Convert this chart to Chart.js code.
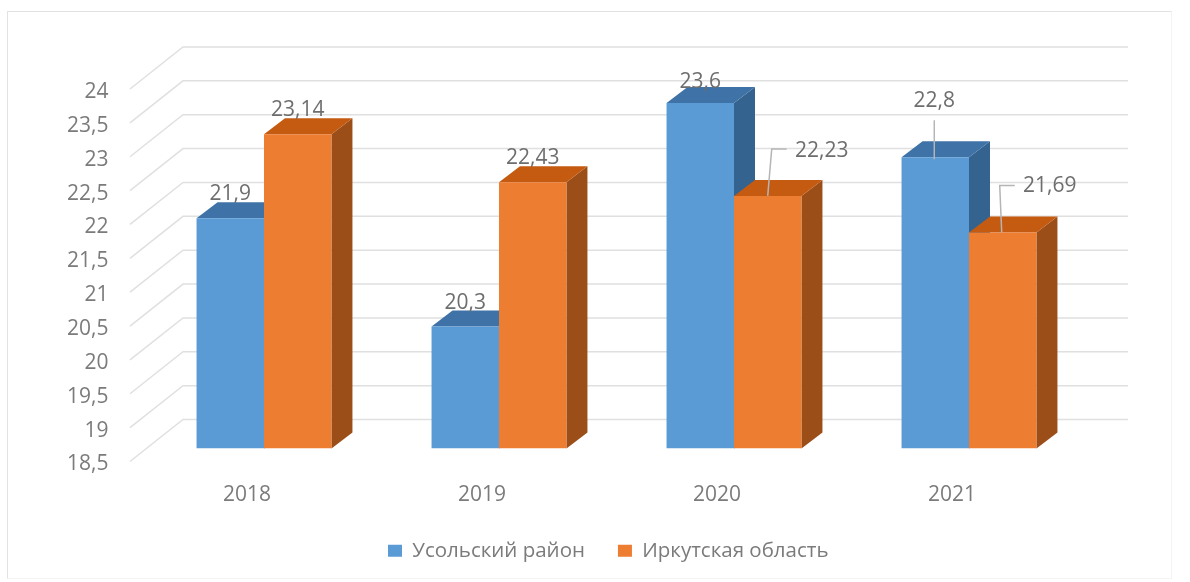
<!DOCTYPE html>
<html>
<head>
<meta charset="utf-8">
<title>Chart</title>
<script src="https://cdn.jsdelivr.net/npm/chart.js@4"></script>
<style>
  html, body { margin: 0; padding: 0; background: #fff; overflow: hidden; }
  #wrap { position: relative; width: 1190px; height: 582px; }
  #frame { position: absolute; left: 7px; top: 11px; width: 1163px; height: 566px; border: 1px solid #e2e2e2; border-right-color: #f4f4f4; border-bottom-color: #f4f4f4; }
  #chart { position: absolute; left: 0; top: 0; filter: blur(0.4px); }
</style>
</head>
<body>
<div id="wrap">
  <div id="frame"></div>
  <canvas id="chart" width="1190" height="582"></canvas>
</div>
<script>
const years = ['2018', '2019', '2020', '2021'];
const usolye = [21.9, 20.3, 23.6, 22.8];
const irkutsk = [23.14, 22.43, 22.23, 21.69];
const seriesNames = ['Усольский район', 'Иркутская область'];

const textColor = '#7b7b7b';
const gridColor = '#e0e0e0';
const fontName = '"Open Sans", sans-serif';

// faces of the bars
const depthX = 21;
const depthY = 16;
const barColors = [
  { front: '#5b9bd5', top: '#3f72a6', side: '#35638f' },
  { front: '#ed7d31', top: '#c55a11', side: '#9c4e18' }
];

// gridline offsets relative to the bar plane
const wall = { frontX: -16.5, frontY: 13, backX: 36.5, backY: -29, right: 41.5 };

// label position relative to bar top, and leader line if the label was moved
const labelPlace = [
  [{ dx: 0, dy: -24 }, { dx: 0, dy: -24 }, { dx: 0, dy: -21 }, { dx: -1, dy: -56, line: [[-1, -37], [-1, 2]] }],
  [{ dx: 0, dy: -24 }, { dx: 0, dy: -24 },
   { dx: 54, dy: -45, line: [[19, -47], [4, -47], [0, 0]] },
   { dx: 47, dy: -46, line: [[12, -47], [-3, -47], [-1, 0]] }]
];

const legendShift = { x: 65, y: 1 };

const comma = v => String(v).replace('.', ',');

const bars3d = {
  id: 'bars3d',
  afterLayout(chart) {
    const lg = chart.legend;
    lg.left += legendShift.x;
    lg.right += legendShift.x;
    lg.top += legendShift.y;
    lg.bottom += legendShift.y;
  },
  beforeDatasetsDraw(chart) {
    const ctx = chart.ctx;
    const y = chart.scales.y;
    const left = chart.chartArea.left;
    const right = chart.chartArea.right;

    // walls: one gridline per tick, going back from the axis and along the wall
    ctx.save();
    ctx.strokeStyle = gridColor;
    ctx.lineWidth = 1.5;
    y.ticks.forEach(t => {
      const p = y.getPixelForValue(t.value);
      ctx.beginPath();
      ctx.moveTo(left + wall.frontX, p + wall.frontY);
      ctx.lineTo(left + wall.backX, p + wall.backY);
      ctx.lineTo(right + wall.right, p + wall.backY);
      ctx.stroke();
    });

    // top and side faces, blue first so orange lies over it
    chart.data.datasets.forEach((ds, i) => {
      const c = barColors[i];
      chart.getDatasetMeta(i).data.forEach(bar => {
        const x0 = bar.x - bar.width / 2;
        const x1 = bar.x + bar.width / 2;
        ctx.fillStyle = c.side;
        ctx.beginPath();
        ctx.moveTo(x1, bar.y);
        ctx.lineTo(x1 + depthX, bar.y - depthY);
        ctx.lineTo(x1 + depthX, bar.base - depthY);
        ctx.lineTo(x1, bar.base);
        ctx.closePath();
        ctx.fill();
        ctx.fillStyle = c.top;
        ctx.beginPath();
        ctx.moveTo(x0, bar.y);
        ctx.lineTo(x0 + depthX, bar.y - depthY);
        ctx.lineTo(x1 + depthX, bar.y - depthY);
        ctx.lineTo(x1, bar.y);
        ctx.closePath();
        ctx.fill();
      });
    });
    ctx.restore();
  },
  afterDatasetsDraw(chart) {
    const ctx = chart.ctx;
    ctx.save();
    ctx.font = '21px ' + fontName;
    ctx.fillStyle = '#6e6e6e';
    ctx.textAlign = 'center';
    ctx.textBaseline = 'middle';
    chart.data.datasets.forEach((ds, i) => {
      chart.getDatasetMeta(i).data.forEach((bar, j) => {
        const place = labelPlace[i][j];
        if (place.line) {
          ctx.strokeStyle = '#b5b5b5';
          ctx.lineWidth = 1.5;
          ctx.beginPath();
          place.line.forEach((pt, k) => {
            if (k === 0) ctx.moveTo(bar.x + pt[0], bar.y + pt[1]);
            else ctx.lineTo(bar.x + pt[0], bar.y + pt[1]);
          });
          ctx.stroke();
        }
        ctx.fillText(comma(ds.data[j]), bar.x + place.dx, bar.y + place.dy);
      });
    });
    ctx.restore();
  }
};

new Chart(document.getElementById('chart'), {
  type: 'bar',
  data: {
    labels: years,
    datasets: [
      { label: seriesNames[0], data: usolye, backgroundColor: barColors[0].front, base: 18.5 },
      { label: seriesNames[1], data: irkutsk, backgroundColor: barColors[1].front, base: 18.5 }
    ]
  },
  options: {
    responsive: false,
    animation: false,
    categoryPercentage: 0.574,
    barPercentage: 1,
    layout: { padding: { left: 0, right: 103.5, top: 76, bottom: 12 } },
    plugins: {
      tooltip: { enabled: false },
      legend: {
        position: 'bottom',
        labels: {
          boxWidth: 14,
          boxHeight: 12,
          padding: 33,
          color: textColor,
          font: { family: fontName, size: 20.5 }
        }
      }
    },
    scales: {
      x: {
        grid: { display: false },
        border: { display: false },
        afterFit(scale) { scale.height = 58; },
        ticks: {
          color: textColor,
          font: { family: fontName, size: 21 },
          labelOffset: -17,
          padding: 26,
          maxRotation: 0
        }
      },
      y: {
        min: 18.5,
        max: 24,
        grid: { display: false },
        border: { display: false },
        afterFit(scale) { scale.width = 146.5; },
        ticks: {
          stepSize: 0.5,
          color: textColor,
          font: { family: fontName, size: 21 },
          labelOffset: 16,
          padding: 30,
          callback: v => comma(v)
        }
      }
    }
  },
  plugins: [bars3d]
});
</script>
</body>
</html>
